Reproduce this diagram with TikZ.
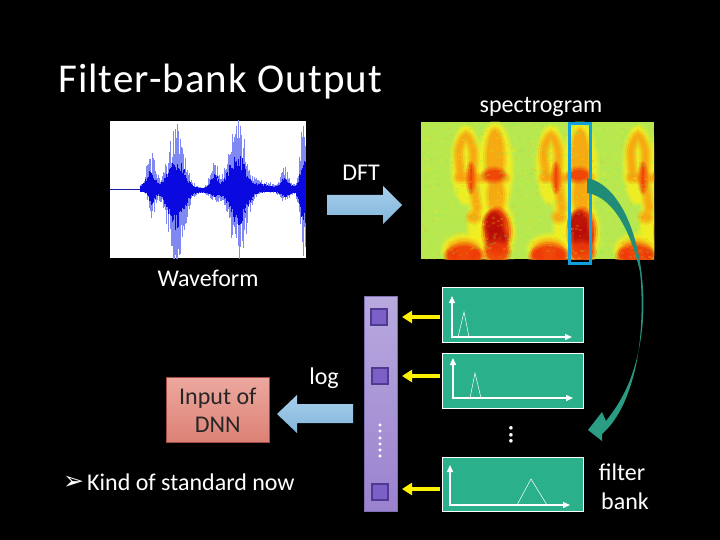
\documentclass[tikz,border=0pt]{standalone}
\usepackage{fontspec}
\setmainfont{Carlito}
\newfontfamily\symfont{DejaVu Sans}
\usetikzlibrary{arrows.meta,calc}
\definecolor{tealbox}{HTML}{2BB08C}
\definecolor{arrowteal}{HTML}{1F8A76}
\definecolor{arrowtealb}{HTML}{2C9E86}
\definecolor{framecyan}{HTML}{12A0DC}
\definecolor{wavedark}{HTML}{0A0AE0}
\definecolor{wavelight}{HTML}{8088F2}
\definecolor{specbg}{HTML}{B8E850}
\definecolor{specy}{HTML}{F6EE20}
\definecolor{speco}{HTML}{F8A010}
\definecolor{specr}{HTML}{EE3A08}
\definecolor{specd}{HTML}{B80C08}
\definecolor{barborder}{HTML}{8070B4}
\definecolor{bartop}{HTML}{B8A9DE}
\definecolor{barbot}{HTML}{9A82CE}
\definecolor{sqfill}{HTML}{7C60C8}
\definecolor{sqborder}{HTML}{4F3A92}
\definecolor{bluetop}{HTML}{A8CEEC}
\definecolor{bluebot}{HTML}{82B6DA}
\definecolor{dnntop}{HTML}{ECA89F}
\definecolor{dnnbot}{HTML}{DC8175}
\definecolor{dnnline}{HTML}{A04A40}
\tikzset{
  txt/.style={text=white,font=\fontsize{24}{28}\selectfont,inner sep=0pt,align=center},
  filterbox/.style={draw=white,line width=0.9pt,fill=tealbox,inner sep=0pt,anchor=north west},
  axis/.style={draw=white,line width=1.4pt,{Triangle[width=6pt,length=7pt]}-{Triangle[width=6pt,length=7pt]}},
  tri/.style={draw=white,line width=0.5pt},
  yarrow/.style={draw=yellow,line width=3.6pt,-{Triangle[width=12pt,length=10pt]}},
  sq/.style={draw=sqborder,line width=1.6pt,fill=sqfill,minimum size=16pt,inner sep=0pt},
  bluearrow/.style={draw=none,top color=bluetop,bottom color=bluebot}
}
\newcommand{\softblob}[5]{% col cx cy rx ry
  \fill[#1,opacity=0.25] (#2,#3) ellipse ({#4+4} and {#5+4});
  \fill[#1,opacity=0.4] (#2,#3) ellipse ({#4+2} and {#5+2});
  \fill[#1,opacity=0.7] (#2,#3) ellipse (#4 and #5);
}
\newcommand{\softstroke}[2]{% col path
  \draw[#1,opacity=0.3,line width=12pt,line cap=round] plot[smooth] coordinates {#2};
  \draw[#1,opacity=0.5,line width=8pt,line cap=round] plot[smooth] coordinates {#2};
  \draw[#1,opacity=0.6,line width=4pt,line cap=round] plot[smooth] coordinates {#2};
}
\newcommand{\syll}[1]{%
  \begin{scope}[xshift=#1pt]
    \softblob{specy}{466}{165}{13}{38}
    \softblob{specy}{477}{225}{7}{32}
    \softblob{specy}{495}{170}{16}{46}
    \softblob{specy}{496}{232}{17}{32}
    \softblob{specy}{464}{250}{20}{14}
    \softstroke{speco}{(461,176) (459,150) (466,136) (473,150) (473,180) (477,208)}
    \softstroke{speco}{(459,178) (480,178) (505,178)}
    \softblob{speco}{495}{158}{8}{28}
    \softblob{speco}{496}{196}{7}{18}
    \softblob{speco}{474}{217}{5}{4}
    \softblob{specr}{471}{178}{1.5}{13}
    \softblob{specr}{494}{175}{9}{5}
    \softblob{specr}{497}{232}{12}{22}
    \softblob{specd}{494}{224}{8}{11}
    \softblob{specd}{497}{238}{8}{10}
    \softblob{specr}{497}{252}{11}{9}
    \softblob{speco}{464}{250}{15}{9}
    \softblob{specr}{464}{254}{14}{8}
    \softblob{specr}{452}{256}{5}{5}
    \softblob{specr}{476}{256}{5}{5}
  \end{scope}
}
\begin{document}
\begin{tikzpicture}[x=1pt,y=-1pt]
\useasboundingbox (0,0) rectangle (720,540);
\fill[black] (0,0) rectangle (720,540);

% title
\node[txt,anchor=west,font=\fontsize{41}{46}\selectfont\addfontfeatures{LetterSpace=2.6}] (title) at (58,82) {Filter-bank Output};
\node[txt] (spec) at (541,107) {spectrogram};
\node[txt] (dft) at (361,173) {DFT};
\node[txt] (wave) at (208,278) {Waveform};
\node[txt] (log) at (324,378) {log};

% waveform
\node[fill=white,inner sep=0pt,minimum width=196pt,minimum height=137pt,anchor=north west] (wavebox) at (110,121) {};
\begin{scope}
  \clip (110,121) rectangle (306,258);
  \pgfmathsetseed{7}
  \draw[blue!60!black!90!white,line width=1pt] (110,190) -- (141,190);
  \foreach \x in {140,140.7,...,305.5}{
    \pgfmathsetmacro{\up}{2.5+32*exp(-((\x-152)/6)^2)+8*exp(-((\x-146)/5)^2)+62*exp(-((\x-176)/11)^2)+30*exp(-((\x-214)/5)^2)+70*exp(-((\x-237)/11)^2)+20*exp(-((\x-285)/6)^2)+68*exp(-((\x-304)/5)^2)+8*exp(-((\x-262)/12)^2)}
    \pgfmathsetmacro{\dn}{2.5+26*exp(-((\x-152)/4)^2)+72*exp(-((\x-176)/11)^2)+10*exp(-((\x-214)/6)^2)+70*exp(-((\x-238)/11)^2)+10*exp(-((\x-285)/6)^2)+68*exp(-((\x-304)/5)^2)}
    \pgfmathsetmacro{\ra}{0.45+0.6*rnd}
    \pgfmathsetmacro{\rb}{0.45+0.6*rnd}
    \draw[wavelight,line width=0.75pt] (\x,190-\up*\ra) -- (\x,190+\dn*\rb);
    \pgfmathsetmacro{\rc}{0.3+0.22*rnd}
    \pgfmathsetmacro{\rd}{0.3+0.22*rnd}
    \draw[wavedark,line width=0.75pt] (\x,190-\up*\rc-1) -- (\x,190+\dn*\rd+1);
  }
\end{scope}

% spectrogram
\node[fill=specbg,inner sep=0pt,minimum width=233pt,minimum height=137pt,anchor=north west] (specbox) at (421,122) {};
\begin{scope}
  \clip (421,122) rectangle (654,259);
  \syll{0}
  \syll{85}
  \syll{172}
  \pgfmathsetseed{11}
  \foreach \i in {1,...,700}{
    \pgfmathsetmacro{\px}{421+233*rnd}
    \pgfmathsetmacro{\py}{122+137*rnd}
    \pgfmathsetmacro{\pk}{rnd}
    \ifdim\pk pt<0.3pt
      \fill[green!60!cyan!45!specbg,opacity=0.2] (\px,\py) rectangle ++(3,2);
    \else
      \ifdim\pk pt<0.7pt
        \fill[yellow,opacity=0.18] (\px,\py) rectangle ++(3,2);
      \else
        \fill[speco,opacity=0.18] (\px,\py) rectangle ++(2,2);
      \fi
    \fi
  }
\end{scope}
\node[draw=framecyan,line width=3.2pt,inner sep=0pt,minimum width=21pt,minimum height=140pt,anchor=north west] (frame) at (567.5,122) {};

% curved arrow
\shade[top color=arrowteal,bottom color=arrowtealb,draw=none]
  (587,178) .. controls (612,183) and (632,215) .. (640,262)
  .. controls (646,300) and (645,340) .. (630,380)
  .. controls (622,400) and (613,412) .. (606,421)
  -- (602,412) -- (588,430) -- (602,441) -- (602,434)
  .. controls (618,420) and (628,398) .. (635,370)
  .. controls (642,340) and (643,300) .. (640,272)
  .. controls (632,236) and (615,197) .. (587,193) -- cycle;

% filter boxes
\node[filterbox,minimum width=141pt,minimum height=55pt] (f1) at (442,287) {};
\node[filterbox,minimum width=141pt,minimum height=55pt] (f2) at (442,353) {};
\node[filterbox,minimum width=141pt,minimum height=54pt] (f3) at (442,457) {};

\coordinate (a1t) at (452,296); \coordinate (a1o) at (452,337); \coordinate (a1r) at (572,337);
\coordinate (a2t) at (453,358); \coordinate (a2o) at (453,398); \coordinate (a2r) at (573,398);
\coordinate (a3t) at (450,465); \coordinate (a3o) at (450,505); \coordinate (a3r) at (570,505);
\draw[axis] (a1t) -- (a1o) -- (a1r);
\draw[axis] (a2t) -- (a2o) -- (a2r);
\draw[axis] (a3t) -- (a3o) -- (a3r);
\draw[tri] (458,337) -- (464,312) -- (469,337);
\draw[tri] (470,398) -- (475,373) -- (481,398);
\draw[tri] (517,505) -- (531,479) -- (547,505);

% purple bar
\node[draw=barborder,line width=0.8pt,top color=bartop,bottom color=barbot,inner sep=0pt,minimum width=33pt,minimum height=215pt,anchor=north west] (bar) at (364,296) {};
\node[sq] (s1) at (379,317) {};
\node[sq] (s2) at (380,376) {};
\node[sq] (s3) at (380,492) {};
\node[text=white,rotate=90,inner sep=0pt,font=\fontsize{24}{24}\selectfont] (bdots) at (380,441) {......};

% yellow arrows
\coordinate (y1) at (440,317); \coordinate (y2) at (440,376); \coordinate (y3) at (440,489);
\coordinate (t1) at (402,317); \coordinate (t2) at (402,376); \coordinate (t3) at (402,489);
\draw[yarrow] (y1) -- (t1);
\draw[yarrow] (y2) -- (t2);
\draw[yarrow] (y3) -- (t3);

\node[text=white,rotate=90,inner sep=0pt,font=\fontsize{24}{24}\selectfont\bfseries] (fdots) at (511,435) {...};

% blue arrows
\path[bluearrow]
  (327,195) -- (383,195) -- (383,186) -- (402,205) -- (383,224) -- (383,215) -- (327,215) -- cycle;
\path[bluearrow]
  (353,404) -- (297,404) -- (297,395) -- (277,414) -- (297,433) -- (297,423) -- (353,423) -- cycle;

% Input of DNN
\node[draw=dnnline,line width=0.7pt,top color=dnntop,bottom color=dnnbot,minimum width=103pt,minimum height=65pt,inner sep=0pt,anchor=north west,align=center,text=black!85,font=\fontsize{24}{28}\selectfont] (dnn) at (166,377) {Input of\\DNN};

% bullet
\node[txt,anchor=west] (bullet) at (63,483) {{\symfont\fontsize{25}{25}\selectfont ➢}};
\node[txt,anchor=west] (kind) at (87,482) {Kind of standard now};

\node[txt] (filter) at (622,472) {filter};
\node[txt] (bank) at (625,501) {bank};
\end{tikzpicture}
\end{document}
